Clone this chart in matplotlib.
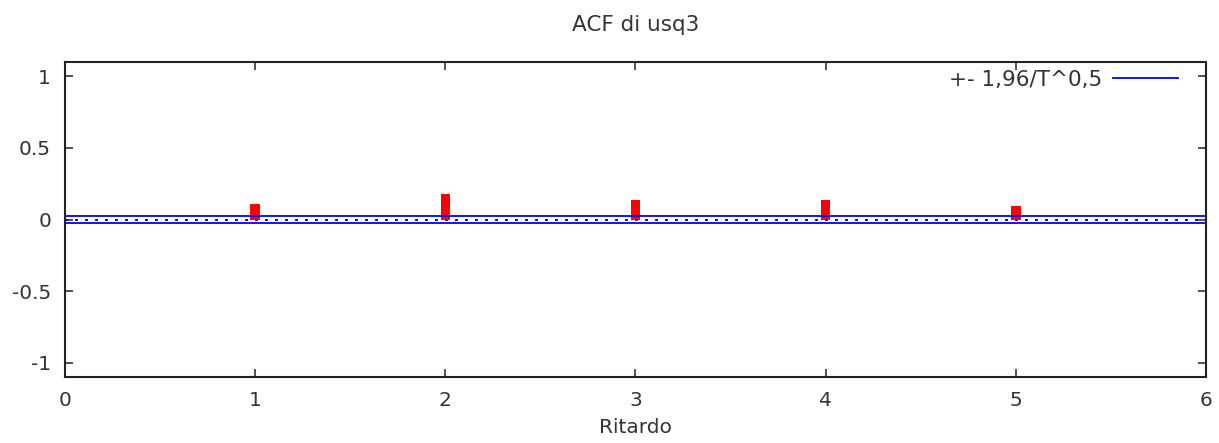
import numpy as np
import matplotlib
matplotlib.use("Agg")
import matplotlib.pyplot as plt

# ACF values
LAGS = [1, 2, 3, 4, 5]
ACF = [0.111, 0.180, 0.139, 0.139, 0.094]
BAND = 0.0265   # +- 1.96/sqrt(T)

INK = "#333333"
FS = 14.5
plt.rcParams.update({
    "font.family": "DejaVu Sans", "font.size": FS,
    "text.color": INK, "axes.labelcolor": INK,
    "xtick.color": INK, "ytick.color": INK,
})

fig = plt.figure(figsize=(12.19, 4.43), dpi=100)
ax = fig.add_axes([0.0533, 0.149, 0.9360, 0.711])

ax.bar(LAGS, ACF, width=0.05, color="#ff0000", zorder=3)
ax.axhline(0, color="black", lw=1.2, ls=(0, (1.8, 4.2)), zorder=2)
ax.axhline(BAND, color="#0000ff", lw=1.3, zorder=4,
           label="+- 1,96/T^0,5")
ax.axhline(-BAND, color="#0000ff", lw=1.3, zorder=4)

ax.set_xlim(0, 6)
ax.set_ylim(-1.1, 1.1)
ax.set_xticks(range(7))
ax.set_yticks([-1, -0.5, 0, 0.5, 1])
ax.set_yticklabels(["-1", "-0.5", "0", "0.5", "1"])
ax.tick_params(direction="in", top=True, right=True, length=6, width=1.2,
               labelsize=FS)
ax.tick_params(axis="x", pad=10)
ax.tick_params(axis="y", pad=10)
for s in ax.spines.values():
    s.set_linewidth(1.5)
    s.set_color("#222222")

ax.set_title("ACF di usq3", fontsize=15.5, pad=22)
ax.set_xlabel("Ritardo", fontsize=FS, labelpad=6)

ax.legend(loc="upper right", frameon=False, markerfirst=False,
          handlelength=3.0, handletextpad=0.5, fontsize=15.5,
          borderaxespad=0, borderpad=0,
          bbox_to_anchor=(0.9755, 0.975))

fig.savefig("out.png", dpi=100, facecolor="white")
